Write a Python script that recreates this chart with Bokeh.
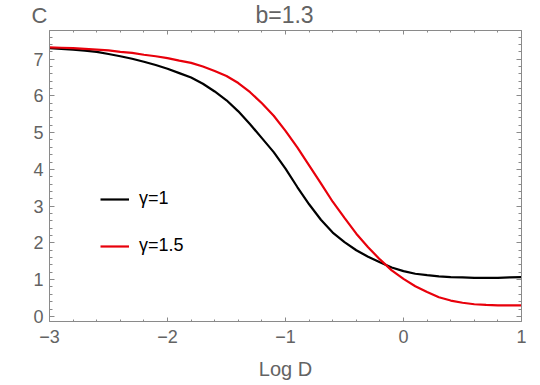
from bokeh.plotting import figure
from bokeh.layouts import column
from bokeh.models import (Range1d, LinearAxis, SingleIntervalTicker, Legend,
                          LegendItem, Label)
from bokeh.embed import file_html
from bokeh.resources import INLINE

# ---- data ----
log_d = [-3.0, -2.9, -2.8, -2.7, -2.6, -2.5, -2.4, -2.3, -2.2, -2.1,
         -2.0, -1.9, -1.8, -1.7, -1.6, -1.5, -1.4, -1.3, -1.2, -1.1,
         -1.0, -0.9, -0.8, -0.7, -0.6, -0.5, -0.4, -0.3, -0.2, -0.1,
         0.0, 0.1, 0.2, 0.3, 0.4, 0.5, 0.6, 0.7, 0.8, 0.9, 1.0]
c_gamma_1 = [7.30, 7.28, 7.26, 7.23, 7.20, 7.14, 7.08, 7.01, 6.93, 6.84,
             6.74, 6.62, 6.50, 6.33, 6.12, 5.88, 5.58, 5.23, 4.85, 4.47,
             4.02, 3.52, 3.05, 2.63, 2.28, 2.02, 1.80, 1.62, 1.47, 1.33,
             1.23, 1.16, 1.12, 1.09, 1.07, 1.06, 1.05, 1.05, 1.05, 1.06, 1.07]
c_gamma_15 = [7.32, 7.31, 7.30, 7.28, 7.26, 7.24, 7.20, 7.17, 7.12, 7.08,
              7.03, 6.96, 6.90, 6.80, 6.68, 6.54, 6.35, 6.10, 5.80, 5.46,
              5.05, 4.60, 4.11, 3.62, 3.12, 2.68, 2.25, 1.88, 1.55, 1.25,
              1.02, 0.82, 0.66, 0.52, 0.43, 0.37, 0.33, 0.31, 0.30, 0.30, 0.30]
series_labels = ["γ=1", "γ=1.5"]
series_colors = ["#000000", "#e8000b"]
title_text = "b=1.3"
panel_text = "C"
x_label = "Log D"

FONT = "Liberation Sans"
TXT = "#636363"
AX = "#8a8a8a"

W, H_HEAD, H_MAIN = 540, 30, 355

# ---- header strip holding the panel letter and the title ----
head = figure(width=W, height=H_HEAD, output_backend="svg", toolbar_location=None,
              x_range=Range1d(0, W), y_range=Range1d(0, H_HEAD),
              x_axis_location=None, y_axis_location=None,
              min_border_left=0, min_border_right=0, min_border_top=0,
              min_border_bottom=0, frame_align=False)
head.outline_line_color = None
head.grid.visible = False
head.add_layout(Label(x=31, y=H_HEAD - 15, text=panel_text, text_align="left",
                      text_baseline="middle", text_font=FONT,
                      text_font_size="22px", text_color=TXT))
head.add_layout(Label(x=284, y=H_HEAD - 14.5, text=title_text, text_align="center",
                      text_baseline="middle", text_font=FONT,
                      text_font_size="23px", text_color=TXT))

# ---- main plot ----
p = figure(width=W, height=H_MAIN, output_backend="svg", toolbar_location=None,
           x_range=Range1d(-3, 1), y_range=Range1d(-0.14, 7.78),
           min_border_left=49, min_border_right=19, min_border_top=0,
           min_border_bottom=64, frame_align=False)
p.outline_line_color = None
p.grid.visible = False

r1 = p.line(log_d, c_gamma_1, line_color=series_colors[0], line_width=2.2)
r2 = p.line(log_d, c_gamma_15, line_color=series_colors[1], line_width=2.2)


def style_axis(ax, tick_in, minor_in, show_labels=True):
    ax.ticker = SingleIntervalTicker(interval=1, num_minor_ticks=5)
    ax.axis_line_color = AX
    ax.axis_line_width = 1
    ax.major_tick_line_color = AX
    ax.minor_tick_line_color = AX
    ax.major_tick_in = tick_in
    ax.major_tick_out = 0
    ax.minor_tick_in = minor_in
    ax.minor_tick_out = 0
    ax.major_label_text_font = FONT
    ax.major_label_text_color = TXT
    ax.major_label_text_font_size = "18px"
    ax.axis_label_text_font = FONT
    ax.axis_label_text_color = TXT
    ax.axis_label_text_font_size = "20px"
    ax.axis_label_text_font_style = "normal"
    if not show_labels:
        ax.major_label_text_font_size = "1px"
        ax.major_label_text_color = None
        ax.major_label_standoff = 0


style_axis(p.xaxis[0], 4, 2)
style_axis(p.yaxis[0], 5, 3)
p.xaxis[0].axis_label = x_label
p.xaxis[0].major_label_standoff = 8
p.xaxis[0].axis_label_standoff = 12
p.yaxis[0].major_label_standoff = 6

top_ax = LinearAxis()
right_ax = LinearAxis()
style_axis(top_ax, 4, 2, show_labels=False)
style_axis(right_ax, 5, 3, show_labels=False)
p.add_layout(top_ax, "above")
p.add_layout(right_ax, "right")

legend = Legend(items=[LegendItem(label=series_labels[0], renderers=[r1]),
                       LegendItem(label=series_labels[1], renderers=[r2])],
                location=(51, 65), orientation="vertical",
                label_text_font=FONT, label_text_font_size="18px",
                label_text_color="#000000", label_standoff=10,
                glyph_width=29, glyph_height=20, label_height=20,
                spacing=26, padding=0, margin=0,
                border_line_color=None, background_fill_alpha=0)
p.add_layout(legend, "center")

layout = column(head, p, spacing=0)
open("out.html", "w").write(file_html(layout, INLINE))
